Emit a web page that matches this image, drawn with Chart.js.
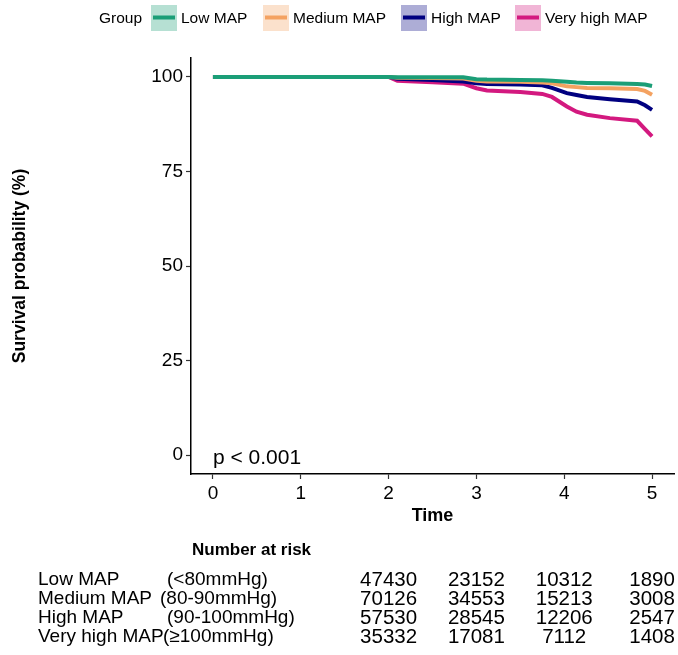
<!DOCTYPE html>
<html>
<head>
<meta charset="utf-8">
<script src="https://cdn.jsdelivr.net/npm/chart.js@4/dist/chart.umd.min.js"></script>
<style>
  html, body { margin: 0; padding: 0; background: #fff; }
  #wrap { width: 678px; height: 655px; position: relative; }
</style>
</head>
<body>
<div id="wrap"><canvas id="chart"></canvas></div>
<script>
// time grid (years) shared by all curves
const times = [0, 2.0, 2.1, 2.5, 2.85, 3.0, 3.12, 3.5, 3.75, 3.86, 4.03, 4.14, 4.26, 4.52, 4.83, 4.92, 5.0];

const lowSurv      = [100, 100, 99.9, 99.9, 99.9, 99.4, 99.3, 99.2, 99.1, 99.0, 98.7, 98.5, 98.4, 98.3, 98.1, 98.0, 97.6];
const mediumSurv   = [100, 100, 99.8, 99.7, 99.6, 99.0, 98.8, 98.7, 98.5, 98.3, 97.5, 97.3, 97.1, 97.0, 96.8, 96.3, 95.3];
const highSurv     = [100, 100, 99.5, 99.2, 98.8, 98.3, 98.1, 98.0, 97.8, 97.1, 95.7, 95.2, 94.7, 94.1, 93.5, 92.5, 91.3];
const veryHighSurv = [100, 100, 99.0, 98.6, 98.2, 97.0, 96.4, 96.0, 95.5, 94.7, 92.2, 90.8, 90.0, 89.1, 88.4, 86.2, 84.3];

const groupNames  = ['Low MAP', 'Medium MAP', 'High MAP', 'Very high MAP'];
const groupRanges = ['(<80mmHg)', '(80-90mmHg)', '(90-100mmHg)', '(≥100mmHg)'];
const colors      = ['#1b9e77', '#f4a261', '#000080', '#d3197f'];
const fills       = ['rgba(27,158,119,0.32)', 'rgba(244,162,97,0.32)', 'rgba(0,0,128,0.32)', 'rgba(211,25,127,0.32)'];

const xTicks = [0, 1, 2, 3, 4, 5];
const yTicks = [0, 25, 50, 75, 100];

const riskTimes = [2, 3, 4, 5];
const riskCounts = [
  [47430, 23152, 10312, 1890],
  [70126, 34553, 15213, 3008],
  [57530, 28545, 12206, 2547],
  [35332, 17081, 7112, 1408]
];
const pText = 'p < 0.001';

const FONT = '"Liberation Sans", Arial, Helvetica, sans-serif';
const allSurv = [lowSurv, mediumSurv, highSurv, veryHighSurv];

const datasets = allSurv.map((s, i) => ({
  label: groupNames[i],
  data: times.map((t, j) => ({x: t, y: s[j]})),
  borderColor: colors[i],
  borderWidth: 4,
  pointRadius: 0,
  tension: 0,
  fill: false
}));

// legend, p value and number-at-risk table
const extras = {
  id: 'extras',
  afterDraw(chart) {
    const ctx = chart.ctx;
    const xs = chart.scales.x;
    const ys = chart.scales.y;
    ctx.save();
    ctx.fillStyle = '#000';
    ctx.textBaseline = 'middle';

    // legend
    ctx.font = '15.5px ' + FONT;
    ctx.textAlign = 'left';
    ctx.fillText('Group', 99, 19);
    const boxX = [151, 263, 401, 515];
    for (let i = 0; i < groupNames.length; i++) {
      const bx = boxX[i];
      ctx.fillStyle = fills[i];
      ctx.fillRect(bx, 5, 26, 26);
      ctx.strokeStyle = colors[i];
      ctx.lineWidth = 4;
      ctx.beginPath();
      ctx.moveTo(bx + 2, 17.5);
      ctx.lineTo(bx + 24, 17.5);
      ctx.stroke();
      ctx.fillStyle = '#000';
      ctx.fillText(groupNames[i], bx + 30, 19);
    }

    // p value
    ctx.font = '21px ' + FONT;
    ctx.fillText(pText, xs.getPixelForValue(0), ys.getPixelForValue(0) + 3);

    // number at risk
    ctx.font = 'bold 17px ' + FONT;
    ctx.fillText('Number at risk', 192, 550);
    const rowY = [580, 599, 618, 637];
    const rangeX = [167, 160, 167, 163];
    for (let r = 0; r < riskCounts.length; r++) {
      ctx.font = '19px ' + FONT;
      ctx.textAlign = 'left';
      ctx.fillText(groupNames[r], 38, rowY[r]);
      ctx.fillText(groupRanges[r], rangeX[r], rowY[r]);
      ctx.font = '20.5px ' + FONT;
      ctx.textAlign = 'center';
      for (let c = 0; c < riskTimes.length; c++) {
        ctx.fillText(String(riskCounts[r][c]), xs.getPixelForValue(riskTimes[c]), rowY[r]);
      }
    }
    ctx.restore();
  }
};

new Chart(document.getElementById('chart'), {
  type: 'line',
  data: { datasets: datasets },
  options: {
    responsive: true,
    maintainAspectRatio: false,
    animation: false,
    layout: { padding: { top: 58, left: 0, right: 4, bottom: 125 } },
    plugins: { legend: { display: false }, tooltip: { enabled: false } },
    scales: {
      x: {
        type: 'linear',
        min: -0.25,
        max: 5.25,
        afterBuildTicks: s => { s.ticks = xTicks.map(v => ({value: v})); },
        afterFit: s => { s.height = 56; },
        grid: { drawOnChartArea: false, drawTicks: true, tickLength: 5, tickColor: '#333', tickWidth: 1.2 },
        border: { display: true, color: '#000', width: 1.5 },
        ticks: { color: '#000', font: { family: FONT, size: 19 }, padding: 3, maxRotation: 0 },
        title: { display: true, text: 'Time', color: '#000', font: { family: FONT, size: 18, weight: 'bold' }, padding: { top: 3, bottom: 3 } }
      },
      y: {
        type: 'linear',
        min: -5,
        max: 105,
        afterBuildTicks: s => { s.ticks = yTicks.map(v => ({value: v})); },
        afterFit: s => { s.width = 191; },
        grid: { drawOnChartArea: false, drawTicks: true, tickLength: 5, tickColor: '#333', tickWidth: 1.2 },
        border: { display: true, color: '#000', width: 1.5 },
        ticks: { color: '#000', font: { family: FONT, size: 19 }, padding: 3 },
        title: { display: true, text: 'Survival probability (%)', color: '#000', font: { family: FONT, size: 17.5, weight: 'bold' }, padding: { top: 10, bottom: 10 } }
      }
    }
  },
  plugins: [extras]
});
</script>
</body>
</html>
